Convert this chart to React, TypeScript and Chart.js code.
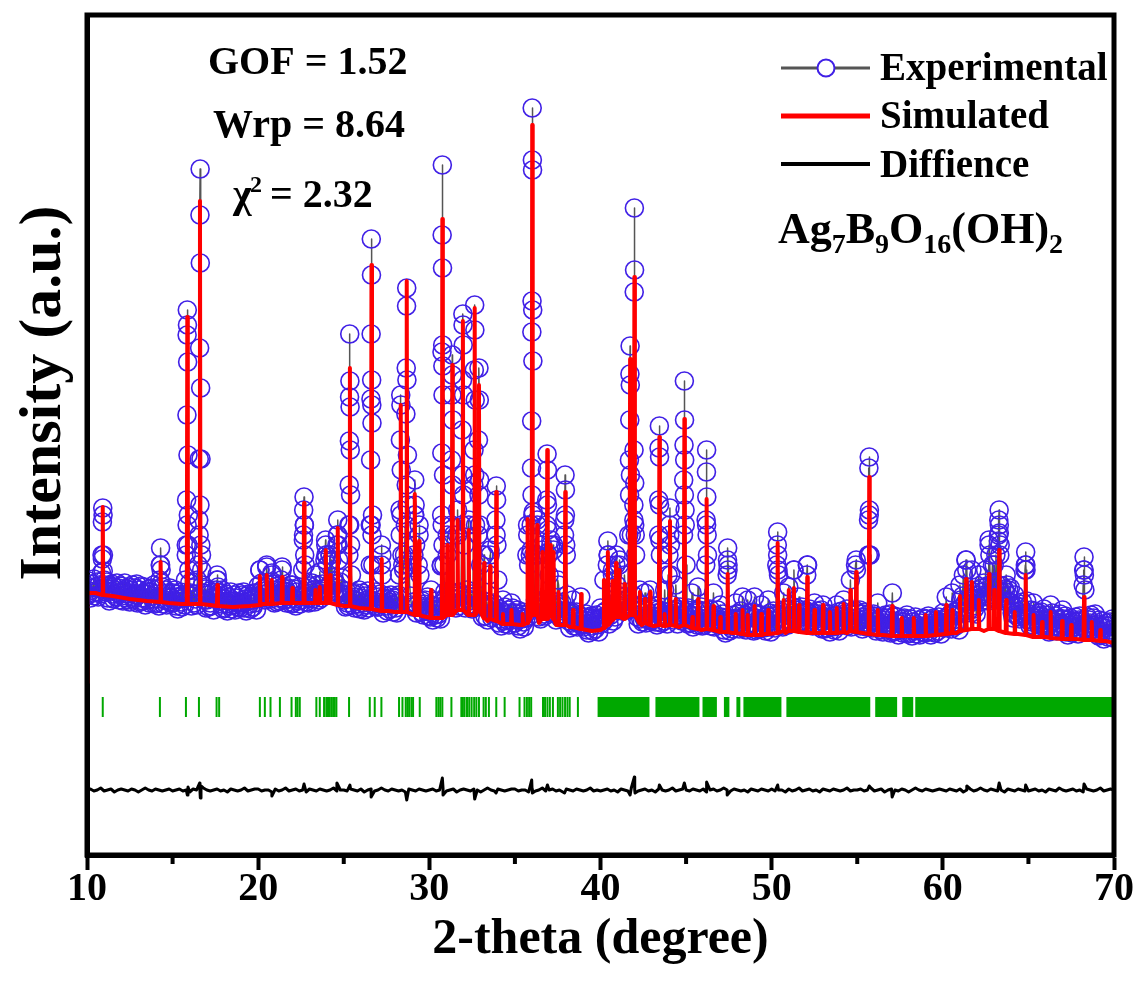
import React, { useEffect, useRef } from "react";
import { Chart, registerables } from "chart.js";

Chart.register(...registerables);

// ---------- axes ----------
const xMin = 10;
const xMax = 70;
const majorTicks = [10, 20, 30, 40, 50, 60, 70];
const minorTicks = [15, 25, 35, 45, 55, 65];
const yMin = 0;
const yMax = 840;

// ---------- texts ----------
const xTitle = "2-theta (degree)";
const yTitle = "Intensity (a.u.)";
const legendLabels = ["Experimental", "Simulated", "Diffience"];
const statLines = ["GOF = 1.52", "Wrp = 8.64"];
const chiValue = "= 2.32";
const formulaParts: [string, boolean][] = [
  ["Ag", false], ["7", true], ["B", false], ["9", true], ["O", false], ["16", true], ["(OH)", false], ["2", true],
];

// ---------- simulated (red) ----------
const simBaseline: [number, number][] = [
  [10.0, 172], [10.02, 262], [10.5, 262], [11.5, 259], [12.5, 256], [13.5, 254], [14.8, 252], [15.5, 251],
  [17.2, 250], [18.5, 248], [19.5, 249], [20.3, 251], [21.8, 252], [22.3, 252], [23.1, 252], [25.0, 249],
  [25.9, 247], [27.6, 244], [28.0, 243], [29.6, 239], [30.4, 237], [33.4, 234], [34.5, 231], [35.3, 230],
  [36.4, 232], [37.4, 230], [38.2, 228], [39.5, 224], [40.0, 225], [42.4, 230], [43.1, 229], [44.6, 228],
  [45.9, 225], [47.7, 222], [48.8, 220], [49.6, 221], [50.8, 222], [52.7, 222], [54.4, 222], [56.5, 220],
  [58.8, 219], [60.8, 222], [62.4, 224], [64.4, 221], [66.0, 218], [67.8, 216], [69.5, 214], [70.0, 212],
];
// [position, top, local background]
const simPeaks: [number, number, number][] = [
  [10.92, 348, 260], [14.3, 293, 253], [15.86, 538, 251], [16.6, 654, 251], [17.62, 270, 249],
  [20.1, 279, 250], [20.5, 280, 251], [20.8, 275, 251], [21.4, 278, 252], [22.0, 267, 252],
  [22.68, 352, 252], [23.35, 265, 252], [23.6, 268, 252], [23.95, 305, 252], [24.2, 280, 252],
  [24.65, 327, 250], [25.36, 487, 249], [26.62, 590, 246], [27.22, 296, 244], [28.33, 450, 243],
  [28.68, 574, 243], [29.15, 361, 240], [29.4, 314, 240], [30.1, 265, 237], [30.76, 636, 237],
  [31.05, 310, 240], [31.34, 490, 240], [31.65, 335, 245], [31.96, 534, 245], [32.3, 325, 240],
  [32.65, 547, 240], [32.9, 470, 245], [33.2, 292, 237], [33.55, 289, 236], [33.91, 363, 234],
  [34.3, 241, 231], [34.8, 245, 231], [35.45, 241, 230], [35.74, 336, 232], [36.01, 730, 240],
  [36.3, 330, 240], [36.6, 303, 236], [36.89, 405, 236], [37.1, 310, 240], [37.26, 303, 236],
  [37.55, 263, 230], [37.94, 363, 230], [38.4, 245, 228], [38.87, 261, 226], [40.2, 275, 227],
  [40.43, 303, 230], [40.7, 274, 235], [40.91, 292, 238], [41.11, 285, 238], [41.4, 271, 236],
  [41.73, 496, 240], [41.98, 578, 240], [42.3, 263, 232], [42.6, 256, 232], [42.9, 263, 230],
  [43.44, 418, 230], [43.75, 241, 229], [44.06, 334, 230], [44.4, 256, 229], [44.9, 436, 230],
  [45.37, 238, 227], [45.7, 256, 226], [46.2, 356, 226], [46.6, 249, 225], [47.0, 238, 223],
  [47.43, 281, 223], [47.9, 241, 222], [48.3, 245, 221], [48.6, 240, 220], [49.0, 249, 220],
  [49.4, 241, 220], [49.8, 245, 221], [50.35, 312, 222], [50.7, 255, 224], [51.0, 265, 224],
  [51.3, 267, 224], [51.6, 250, 223], [52.08, 278, 222], [52.5, 245, 222], [53.0, 250, 222],
  [53.4, 243, 222], [53.8, 247, 222], [54.2, 251, 223], [54.6, 265, 224], [54.94, 283, 223],
  [55.7, 378, 221], [56.2, 245, 220], [57.04, 249, 219], [57.6, 237, 219], [58.3, 237, 219],
  [59.0, 240, 219], [59.6, 243, 220], [60.2, 250, 221], [60.55, 245, 222], [61.0, 259, 224],
  [61.36, 276, 225], [61.7, 273, 226], [62.1, 255, 226], [62.7, 281, 226], [63.0, 265, 226],
  [63.29, 305, 224], [63.7, 255, 222], [64.2, 243, 221], [64.84, 280, 220], [65.3, 240, 218],
  [65.8, 233, 218], [66.3, 243, 217], [66.97, 234, 216], [67.5, 230, 216], [68.25, 258, 215],
  [68.7, 233, 215], [69.2, 225, 214],
];
const peakHalfWidth = 0.03;

// ---------- experimental (circles) ----------
const expStart = 10;
const expStep = 0.05;
const expBackground: number[] = [
  269,260,274,264,257,271,267,262,276,259,268,263,273,258,270,266,261,282,296,284,
  275,270,263,273,257,266,254,269,264,271,261,256,268,265,258,272,262,267,255,269,
  269,259,254,264,272,257,266,261,255,268,253,265,262,270,258,256,267,260,271,252,
  260,265,253,269,257,254,262,268,250,264,261,255,266,252,263,267,259,256,270,251,
  261,252,266,256,249,275,290,272,268,251,260,255,265,250,262,258,253,267,257,252,
  252,262,255,265,249,258,246,261,256,263,253,248,260,257,250,275,300,330,310,285,
  272,262,249,259,267,252,261,256,250,275,290,320,350,310,285,270,262,255,266,247,
  255,260,248,264,252,249,257,263,245,259,256,265,275,268,258,262,254,251,265,246,
  256,247,261,251,244,258,254,249,263,246,255,250,260,245,257,253,248,262,252,247,
  250,260,253,263,247,256,244,259,254,261,251,246,258,255,248,262,252,257,245,259,
  269,259,285,264,272,257,266,261,255,268,288,265,262,270,258,256,280,260,271,252,
  260,265,253,269,257,254,262,275,285,264,261,255,266,252,263,267,259,256,270,251,
  270,252,266,256,249,263,259,254,268,251,260,255,285,320,330,290,253,267,257,252,
  259,269,262,272,256,265,253,280,263,270,260,255,283,264,257,271,261,266,295,310,
  300,290,260,270,300,263,295,267,261,274,259,271,310,320,295,262,273,266,277,258,
  255,260,248,264,252,249,300,330,310,280,256,250,261,247,258,262,254,251,265,246,
  257,248,262,252,245,259,255,250,264,247,256,290,330,320,290,254,249,263,253,248,
  248,258,251,261,290,280,242,257,252,259,249,244,256,253,246,260,250,255,243,257,
  257,247,242,252,260,280,320,340,300,290,285,300,330,370,350,310,290,270,259,250,
  248,253,300,340,310,242,250,290,320,280,249,243,254,240,251,255,247,244,258,239,
  247,238,265,242,235,249,245,240,254,237,246,241,251,236,290,330,310,290,263,258,
  251,300,254,264,248,257,330,370,320,262,252,247,259,320,249,263,253,258,330,380,
  360,310,247,257,265,250,330,254,248,261,246,258,370,380,330,249,260,320,360,330,
  290,250,238,254,300,239,247,253,235,249,280,300,251,237,248,252,244,241,320,310,
  275,232,246,236,229,243,255,234,248,231,240,235,245,230,242,238,252,247,237,232,
  232,242,235,245,229,238,226,241,236,243,233,228,240,237,300,320,290,239,300,330,
  360,340,300,247,255,300,330,300,238,251,236,248,305,253,241,239,250,330,350,300,
  280,250,310,254,242,305,247,253,235,249,275,270,251,237,248,252,244,241,320,340,
  300,260,244,234,227,241,237,232,255,229,238,233,243,228,240,236,231,258,235,230,
  228,238,231,241,225,234,222,237,232,239,229,224,236,233,226,240,230,235,223,237,
  247,237,232,242,275,235,244,239,290,300,231,243,240,248,280,234,245,238,290,270,
  250,255,290,259,247,244,252,258,280,254,251,245,256,320,360,380,320,246,260,350,
  330,300,248,238,231,245,265,236,250,233,242,237,262,232,244,240,235,249,265,234,
  236,246,239,249,233,242,230,245,320,350,300,232,244,241,234,265,238,243,231,280,
  300,320,280,242,250,235,244,239,270,246,231,243,240,248,236,234,245,320,360,330,
  290,243,231,247,235,232,240,262,228,242,239,233,244,230,268,245,237,234,248,229,
  239,230,244,290,330,300,237,232,246,229,238,233,262,228,240,236,231,245,235,230,
  250,238,231,241,225,234,222,237,280,290,229,224,236,233,226,240,230,235,252,237,
  241,231,226,236,244,229,258,233,227,240,225,237,255,242,230,228,239,232,243,224,
  258,237,225,241,229,226,234,240,250,236,233,227,238,224,235,239,255,228,242,223,
  239,230,244,234,227,241,290,300,280,229,238,233,243,228,262,236,231,245,235,230,
  268,246,239,249,233,242,285,245,240,247,237,232,258,241,234,248,238,243,231,245,
  243,280,290,238,246,231,240,235,229,242,252,239,236,244,232,230,241,234,245,226,
  250,238,226,242,230,227,235,241,223,237,234,228,239,225,236,240,250,229,243,224,
  239,230,244,234,255,241,237,232,246,229,238,233,275,228,240,236,231,245,290,285,
  232,242,235,245,229,238,226,241,236,243,233,228,240,300,340,300,234,239,227,241,
  239,229,224,234,252,227,236,231,225,238,223,235,232,240,228,226,237,230,241,222,
  230,262,223,239,227,224,232,238,220,234,231,225,236,222,233,237,229,226,240,221,
  231,222,236,226,219,233,229,224,238,221,230,225,235,220,232,228,223,237,227,222,
  226,236,229,239,223,232,220,235,230,237,227,222,234,231,224,238,228,233,221,235,
  242,232,227,237,258,230,239,234,228,241,226,262,235,243,231,229,240,233,244,225,
  270,255,243,259,280,244,252,295,285,254,251,245,256,242,285,257,249,246,260,241,
  265,256,280,260,253,267,263,258,272,255,285,259,269,254,310,300,257,271,290,256,
  290,268,300,271,255,320,330,310,262,269,259,254,266,263,280,270,260,265,253,267,
  252,242,237,247,260,240,249,244,238,251,236,248,245,253,241,239,285,290,254,235,
  236,241,229,245,233,230,252,244,226,240,237,231,242,228,239,243,235,232,246,227,
  235,226,240,230,223,237,250,228,242,225,234,229,239,224,236,232,227,241,231,226,
  245,236,229,239,223,232,220,235,230,237,227,222,234,231,224,238,228,233,221,235,
  239,229,224,234,270,285,265,231,225,238,223,235,232,240,228,226,237,230,241,222,
  226,231,219,235,223,220,228,234,216,230,227,221,232,218,229,233,225,222,236,217,
  220,
];
const expPeaks: [number, number][] = [
  [10.88, 300], [10.9, 333], [10.92, 347], [10.94, 340], [10.96, 300],
  [14.28, 290], [14.3, 307], [14.33, 285],
  [15.8, 310], [15.82, 355], [15.84, 440], [15.85, 520], [15.86, 545], [15.87, 530], [15.88, 493], [15.9, 400], [15.92, 340],
  [16.53, 335], [16.56, 396], [16.58, 507], [16.6, 640], [16.61, 686], [16.62, 592], [16.64, 467], [16.66, 396], [16.69, 300],
  [17.6, 280], [17.63, 275], [20.1, 285], [20.5, 290], [20.8, 282], [21.4, 288],
  [22.64, 315], [22.66, 345], [22.68, 358], [22.7, 330], [22.72, 300],
  [23.94, 315], [23.96, 300], [24.2, 300], [24.63, 320], [24.65, 335], [24.67, 310],
  [25.3, 330], [25.32, 370], [25.33, 414], [25.34, 458], [25.35, 521], [25.36, 474], [25.37, 448], [25.38, 405], [25.4, 360],
  [26.55, 330], [26.57, 395], [26.59, 456], [26.6, 521], [26.61, 616], [26.62, 580], [26.63, 475], [26.64, 450], [26.65, 432], [26.68, 340],
  [27.2, 310], [27.23, 300],
  [28.29, 345], [28.31, 415], [28.33, 460], [28.34, 450], [28.36, 385],
  [28.63, 441], [28.65, 487], [28.67, 549], [28.68, 567], [28.69, 475], [28.72, 400],
  [29.13, 340], [29.15, 375], [29.17, 350], [29.4, 330],
  [30.7, 289], [30.72, 340], [30.73, 402], [30.74, 503], [30.75, 620], [30.76, 690], [30.77, 587], [30.78, 510], [30.79, 489], [30.8, 460], [30.83, 380],
  [31.05, 320], [31.3, 395], [31.32, 460], [31.34, 500], [31.35, 480], [31.37, 435], [31.65, 345],
  [31.92, 425], [31.94, 475], [31.96, 541], [31.97, 530], [31.98, 510], [32.0, 460], [32.3, 335],
  [32.61, 405], [32.63, 485], [32.65, 550], [32.66, 525], [32.68, 455],
  [32.87, 415], [32.9, 487], [32.92, 455], [32.94, 375], [33.2, 300], [33.55, 305],
  [33.89, 335], [33.91, 369], [33.93, 355], [35.74, 330],
  [35.95, 305], [35.97, 387], [35.98, 434], [35.99, 523], [36.0, 554], [36.01, 747], [36.02, 695], [36.03, 685], [36.04, 545], [36.05, 494], [36.07, 343],
  [36.3, 335], [36.6, 310], [36.86, 355], [36.88, 401], [36.9, 385], [36.92, 325], [37.1, 315], [37.26, 310],
  [37.91, 335], [37.93, 380], [37.95, 365], [37.97, 310],
  [40.43, 314], [40.45, 300], [40.7, 285], [40.91, 300], [41.11, 295],
  [41.69, 395], [41.71, 435], [41.72, 481], [41.73, 509], [41.74, 470],
  [41.95, 335], [41.96, 405], [41.97, 563], [41.98, 647], [41.99, 585], [42.0, 372], [42.03, 320],
  [43.4, 355], [43.42, 407], [43.44, 429], [43.45, 398], [43.47, 315],
  [44.04, 330], [44.06, 347], [44.08, 310],
  [44.86, 375], [44.88, 410], [44.9, 474], [44.91, 435], [44.92, 395], [44.94, 345],
  [46.17, 335], [46.19, 383], [46.2, 405], [46.21, 358], [46.23, 320],
  [47.42, 295], [47.43, 307], [47.45, 285], [50.33, 310], [50.35, 323], [50.37, 285],
  [51.3, 285], [52.08, 290], [54.94, 295],
  [55.66, 335], [55.68, 387], [55.7, 398], [55.71, 345], [55.73, 300],
  [61.36, 295], [62.7, 315], [63.25, 314], [63.27, 335], [63.29, 345], [63.3, 322], [63.33, 300],
  [64.82, 290], [64.84, 303], [64.86, 285], [68.23, 285], [68.25, 298], [68.27, 280],
];

// ---------- difference (black) ----------
const diffStart = 10;
const diffStep = 0.2;
const diffBackground: number[] = [
  65,66,64,65,67,64,65,66,63,65,66,65,64,66,65,63,65,67,65,64,66,65,64,65,66,
  64,65,66,64,65,63,66,65,64,67,65,64,65,66,64,65,63,66,65,64,65,67,64,65,66,
  66,64,65,65,63,66,64,65,67,64,65,66,64,65,63,66,65,64,66,65,64,65,67,64,65,
  65,64,66,65,64,66,63,65,66,64,65,67,65,64,66,65,64,65,63,66,65,64,66,65,64,
  65,66,64,65,67,64,65,66,63,65,66,65,64,66,65,63,65,67,65,64,66,65,64,65,66,
  66,64,65,65,63,66,64,65,67,64,65,66,64,65,63,66,65,64,66,65,64,65,67,64,65,
  64,65,66,64,65,63,66,65,64,67,65,64,65,66,64,65,63,66,65,64,65,67,64,65,66,
  65,64,66,65,64,66,63,65,66,64,65,67,65,64,66,65,64,65,63,66,65,64,66,65,64,
  66,64,65,65,63,66,64,65,67,64,65,66,64,65,63,66,65,64,66,65,64,65,67,64,65,
  65,66,64,65,67,64,65,66,63,65,66,65,64,66,65,63,65,67,65,64,66,65,64,65,66,
  65,64,66,65,64,66,63,65,66,64,65,67,65,64,66,65,64,65,63,66,65,64,66,65,64,
  64,65,66,64,65,63,66,65,64,67,65,64,65,66,64,65,63,66,65,64,65,67,64,65,66,
  65,
];
const diffSpikes: [number, number][] = [
  [15.86, 60], [15.9, 68], [16.58, 72], [16.62, 57], [16.66, 69], [20.8, 59], [22.68, 71], [24.6, 72],
  [25.36, 70], [26.6, 58], [28.68, 55], [30.76, 77], [30.8, 60], [32.65, 56], [33.9, 62], [35.98, 75],
  [36.02, 62], [36.9, 70], [37.9, 62], [41.73, 60], [41.98, 78], [42.02, 62], [43.44, 70], [44.9, 72],
  [46.2, 73], [47.4, 60], [50.35, 70], [55.7, 69], [57.04, 58], [61.4, 69], [63.29, 72], [64.84, 70],
  [68.25, 71],
];

// ---------- reflection markers (green) ----------
const reflectionLevel = 148;
const reflections: number[] = [
  10.92, 14.26, 15.78, 16.54, 17.57, 17.72, 20.1, 20.39, 20.72, 21.27, 21.95, 22.2, 22.3, 22.43,
  23.4, 23.6, 23.85, 23.98, 24.08, 24.18, 24.28, 24.38, 24.47, 24.57, 25.31, 26.52, 26.81, 27.2,
  28.23, 28.43, 28.62, 28.72, 28.82, 28.95, 29.05, 29.44, 30.41, 30.53, 30.64, 30.76, 31.29, 31.87,
  31.96, 32.06, 32.2, 32.33, 32.47, 32.62, 32.75, 32.9, 33.17, 33.3, 33.48, 33.91, 34.4, 35.27,
  35.56, 35.7, 35.83, 35.95, 36.64, 36.76, 36.9, 37.04, 37.22, 37.51, 37.64, 37.78, 37.93, 38.07,
  38.2, 38.68,
];
const reflectionBands: [number, number][] = [
  [39.83, 42.86], [43.21, 45.78], [45.96, 46.8], [47.21, 47.53], [47.94, 48.17], [48.35, 50.57],
  [50.86, 55.76], [56.05, 57.33], [57.63, 58.27], [58.39, 70.0],
];

const serif = (size: number) => `bold ${size}px "Liberation Serif", "Times New Roman", serif`;

const overlayPlugin = {
  id: "overlay",
  afterDraw(chart: any) {
    const { ctx, chartArea } = chart;
    const { left, right, top, bottom } = chartArea;
    const xs = chart.scales.x;
    ctx.save();
    // minor ticks
    ctx.strokeStyle = "#000";
    ctx.lineWidth = 4;
    minorTicks.forEach((v) => {
      const px = xs.getPixelForValue(v);
      ctx.beginPath();
      ctx.moveTo(px, bottom);
      ctx.lineTo(px, bottom + 9);
      ctx.stroke();
    });
    // frame
    ctx.lineWidth = 5;
    ctx.strokeRect(left, top, right - left, bottom - top);

    ctx.fillStyle = "#000";
    ctx.textBaseline = "alphabetic";

    // y title
    ctx.save();
    ctx.translate(60, 393);
    ctx.rotate(-Math.PI / 2);
    ctx.textAlign = "center";
    ctx.font = serif(60);
    ctx.fillText(yTitle, 0, 0);
    ctx.restore();

    ctx.textAlign = "left";
    // stats
    ctx.font = serif(40);
    ctx.fillText(statLines[0], 208, 74);
    ctx.fillText(statLines[1], 213, 137);
    ctx.fillText("\u03C7", 233, 207);
    ctx.font = serif(24);
    ctx.fillText("2", 250, 192);
    ctx.font = serif(40);
    ctx.fillText(chiValue, 270, 207);

    // legend
    const rows = [68, 116, 164];
    const baselines = [80, 128, 177];
    ctx.lineCap = "butt";
    ctx.strokeStyle = "#555";
    ctx.lineWidth = 3;
    ctx.beginPath();
    ctx.moveTo(781, rows[0]);
    ctx.lineTo(870, rows[0]);
    ctx.stroke();
    ctx.beginPath();
    ctx.arc(826, rows[0], 8.5, 0, Math.PI * 2);
    ctx.fillStyle = "#fff";
    ctx.fill();
    ctx.strokeStyle = "#4020e6";
    ctx.lineWidth = 2;
    ctx.stroke();
    ctx.strokeStyle = "#ff0000";
    ctx.lineWidth = 5;
    ctx.beginPath();
    ctx.moveTo(781, rows[1]);
    ctx.lineTo(870, rows[1]);
    ctx.stroke();
    ctx.strokeStyle = "#000";
    ctx.lineWidth = 4;
    ctx.beginPath();
    ctx.moveTo(781, rows[2]);
    ctx.lineTo(870, rows[2]);
    ctx.stroke();
    ctx.fillStyle = "#000";
    ctx.font = serif(39);
    legendLabels.forEach((t, i) => ctx.fillText(t, 880, baselines[i]));

    // formula
    let fx = 778;
    formulaParts.forEach(([t, sub]) => {
      ctx.font = serif(sub ? 28 : 44);
      ctx.fillText(t, fx, sub ? 253 : 243);
      fx += ctx.measureText(t).width;
    });
    ctx.restore();
  },
};

export default function App() {
  const ref = useRef<HTMLCanvasElement | null>(null);

  useEffect(() => {
    const canvas = ref.current;
    if (!canvas) return;
    const byX = (a: any, b: any) => a.x - b.x;

    const simData = [
      ...simBaseline.map(([x, y]) => ({ x, y })),
      ...simPeaks.flatMap(([p, topV, base]) => [
        { x: p - peakHalfWidth, y: base },
        { x: p, y: topV },
        { x: p + peakHalfWidth, y: base },
      ]),
    ].sort(byX);

    const expData = [
      ...expBackground.map((y, i) => ({ x: +(expStart + i * expStep).toFixed(2), y })),
      ...expPeaks.map(([x, y]) => ({ x, y })),
    ].sort(byX);

    const diffData = [
      ...diffBackground.map((y, i) => ({ x: +(diffStart + i * diffStep).toFixed(2), y })),
      ...diffSpikes.map(([x, y]) => ({ x, y })),
    ].sort(byX);

    const tickData = reflections.map((x) => ({ x, y: reflectionLevel }));
    const bandData: any[] = reflectionBands.flatMap(([a, b]) => [
      { x: a, y: reflectionLevel },
      { x: b, y: reflectionLevel },
      { x: b, y: null },
    ]);

    const chart = new Chart(canvas, {
      type: "scatter",
      data: {
        datasets: [
          {
            label: "Simulated",
            data: simData,
            showLine: true,
            borderColor: "#ff0000",
            borderWidth: 4,
            borderJoinStyle: "round",
            pointRadius: 0,
            order: 0,
          } as any,
          {
            label: "Experimental",
            data: expData,
            showLine: true,
            borderColor: "#555555",
            borderWidth: 1.5,
            borderJoinStyle: "round",
            pointRadius: 9,
            pointBorderWidth: 1.6,
            pointBorderColor: "#4020e6",
            pointBackgroundColor: "rgba(0,0,0,0)",
            order: 1,
          } as any,
          {
            label: "Diffience",
            data: diffData,
            showLine: true,
            borderColor: "#000",
            borderWidth: 3,
            borderJoinStyle: "round",
            pointRadius: 0,
            order: 2,
          } as any,
          {
            label: "Reflections",
            data: tickData,
            showLine: false,
            pointStyle: "line",
            pointRotation: 90,
            pointRadius: 10,
            pointBorderWidth: 2,
            pointBorderColor: "#00a800",
            order: 3,
          } as any,
          {
            label: "Reflection bands",
            data: bandData,
            showLine: true,
            spanGaps: false,
            borderColor: "#00a800",
            borderWidth: 20,
            borderCapStyle: "butt",
            pointRadius: 0,
            order: 4,
          } as any,
        ],
      },
      options: {
        animation: false,
        responsive: false,
        events: [],
        layout: { padding: { top: 15, right: 31, left: 0, bottom: 0 } },
        plugins: { legend: { display: false }, tooltip: { enabled: false } },
        scales: {
          x: {
            type: "linear",
            min: xMin,
            max: xMax,
            afterBuildTicks: (s: any) => {
              s.ticks = majorTicks.map((v) => ({ value: v }));
            },
            afterFit: (s: any) => {
              s.height = 128;
            },
            ticks: {
              color: "#000",
              padding: -4,
              maxRotation: 0,
              autoSkip: false,
              font: { family: '"Liberation Serif", serif', weight: "bold", size: 40 },
            },
            grid: {
              display: true,
              drawOnChartArea: false,
              drawTicks: true,
              tickLength: 15,
              tickWidth: 4,
              tickColor: "#000",
            },
            border: { display: true, width: 5, color: "#000" },
            title: {
              display: true,
              text: xTitle,
              color: "#000",
              font: { family: '"Liberation Serif", serif', weight: "bold", size: 50 },
              padding: { top: 0, bottom: 13 },
            },
          },
          y: {
            type: "linear",
            min: yMin,
            max: yMax,
            afterFit: (s: any) => {
              s.width = 87;
            },
            ticks: { display: false },
            grid: { display: false },
            border: { display: true, width: 5, color: "#000" },
          },
        },
      } as any,
      plugins: [overlayPlugin],
    });

    return () => chart.destroy();
  }, []);

  return (
    <div style={{ position: "absolute", left: 0, top: 0, width: 1145, height: 983, background: "#fff" }}>
      <canvas ref={ref} width={1145} height={983} style={{ display: "block" }} />
    </div>
  );
}
